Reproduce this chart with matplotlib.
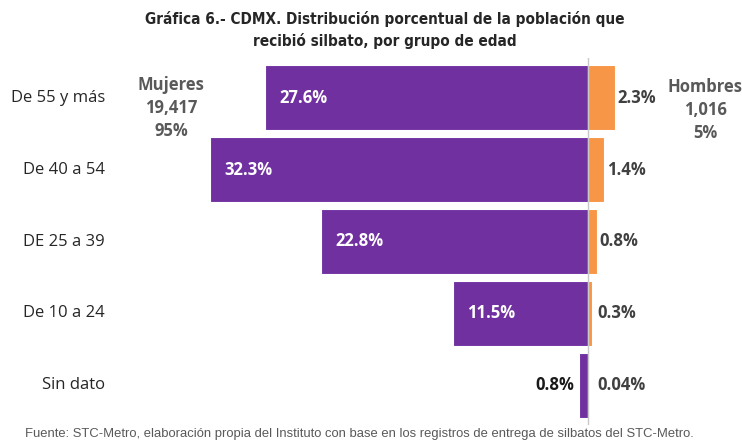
import numpy as np
import matplotlib.pyplot as plt
from matplotlib import font_manager

# data
grupos = ['De 55 y más', 'De 40 a 54', 'DE 25 a 39', 'De 10 a 24', 'Sin dato']
mujeres = [27.6, 32.3, 22.8, 11.5, 0.8]
hombres = [2.3, 1.4, 0.8, 0.3, 0.04]
mujeres_txt = ['27.6%', '32.3%', '22.8%', '11.5%', '0.8%']
hombres_txt = ['2.3%', '1.4%', '0.8%', '0.3%', '0.04%']

morado = '#7030A0'
naranja = '#F79646'

# look for a condensed face for the title
narrow = None
for f in font_manager.fontManager.ttflist:
    if f.name == 'Liberation Sans Narrow':
        narrow = dict(family='Liberation Sans Narrow')
        break
if narrow is None:
    for f in font_manager.fontManager.ttflist:
        if f.name == 'DejaVu Sans' and f.stretch == 'condensed':
            narrow = dict(family='DejaVu Sans', fontstretch='condensed')
            break
if narrow is None:
    narrow = dict(family='Roboto')
body = ['Open Sans', 'DejaVu Sans']

W, H = 742, 443
fig = plt.figure(figsize=(W / 100, H / 100), dpi=100)

# axes placed in pixel coords: zero at x=588, 11.7 px per percent
ax_left, ax_right = 130, 742
ax_top, ax_bot = 58, 425
ax = fig.add_axes([ax_left / W, 1 - ax_bot / H, (ax_right - ax_left) / W, (ax_bot - ax_top) / H])
ppu = 11.7
ax.set_xlim(-(588 - ax_left) / ppu, (ax_right - 588) / ppu)
ax.set_ylim(len(grupos) - 0.5 + 0.05, -0.55)
ax.axis('off')

y = np.arange(len(grupos))
ax.barh(y, [-m for m in mujeres], height=0.9, color=morado, edgecolor='white', linewidth=0.8)
ax.barh(y, hombres, height=0.9, color=naranja, edgecolor='white', linewidth=0.8)
ax.axvline(0, color='#C8C8C8', linewidth=1, ymin=0, ymax=1)

for i in range(len(grupos)):
    if mujeres[i] > 5:
        ax.text(-mujeres[i] + 1.2, i, mujeres_txt[i], color='white', fontsize=12,
                fontweight='bold', family=body, ha='left', va='center')
    else:
        ax.text(-mujeres[i] - 0.4, i, mujeres_txt[i], color='#1a1a1a', fontsize=12,
                fontweight='bold', family=body, ha='right', va='center')
    ax.text(max(hombres[i], 0.6) + 0.2, i, hombres_txt[i], color='#404040', fontsize=12,
            fontweight='bold', family=body, ha='left', va='center')
    # category labels on the left
    ax.text(-(588 - 105) / ppu, i, grupos[i], color='#262626', fontsize=12,
            family=body, ha='right', va='center')

ax.text(-(588 - 171) / ppu, 0.14, 'Mujeres\n19,417\n95%', color='#595959', fontsize=12,
        fontweight='bold', family=body, ha='center', va='center', linespacing=1.35)
ax.text((705 - 588) / ppu, 0.17, 'Hombres\n1,016\n5%', color='#595959', fontsize=12,
        fontweight='bold', family=body, ha='center', va='center', linespacing=1.35)

fig.text(385 / W, 1 - 30 / H, 'Gráfica 6.- CDMX. Distribución porcentual de la población que\nrecibió silbato, por grupo de edad',
         ha='center', va='center', fontsize=11, fontweight='bold',
         color='#262626', linespacing=1.45, **narrow)
fig.text(25 / W, 1 - 434 / H, 'Fuente: STC-Metro, elaboración propia del Instituto con base en los registros de entrega de silbatos del STC-Metro.',
         ha='left', va='center', fontsize=9.35, color='#595959', family='Liberation Sans')

fig.savefig('out.png', dpi=100)
